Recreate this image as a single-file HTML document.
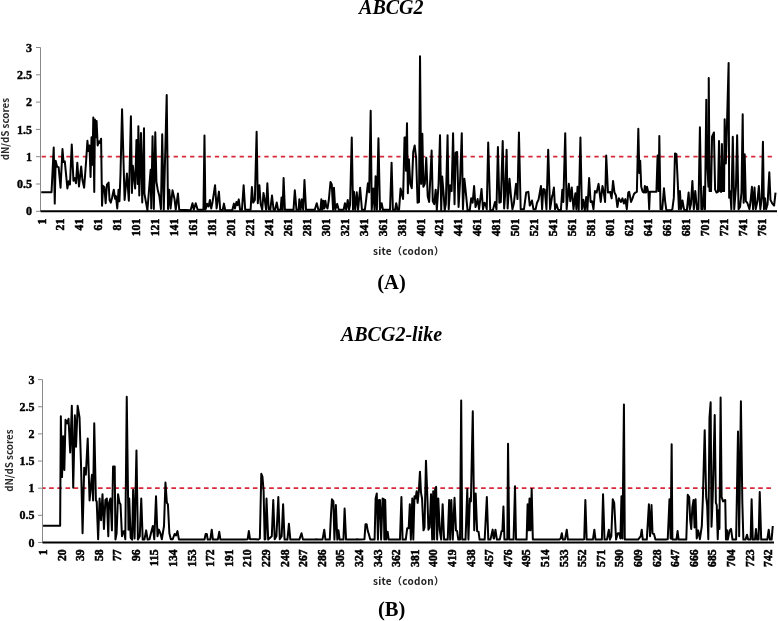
<!DOCTYPE html>
<html><head><meta charset="utf-8"><style>
html,body{margin:0;padding:0;background:#fff;}
body{width:778px;height:621px;overflow:hidden;position:relative;}
svg{position:absolute;left:0;top:0;}
.yl{font-family:"Liberation Serif",serif;font-weight:bold;font-size:12px;text-anchor:end;fill:#000;stroke:#000;stroke-width:0.4px;}
.xl{font-family:"Liberation Serif",serif;font-weight:bold;font-size:11.6px;text-anchor:end;fill:#000;stroke:#000;stroke-width:0.55px;}
.ti{font-family:"Liberation Serif",serif;font-weight:bold;font-style:italic;font-size:20px;text-anchor:middle;fill:#000;}
.pl{font-family:"Liberation Serif",serif;font-weight:bold;font-size:20.5px;text-anchor:middle;fill:#000;}
.at{font-family:"Noto Sans CJK SC",sans-serif;font-weight:bold;font-size:10px;fill:#222;}
.yt{font-family:"Noto Sans CJK SC",sans-serif;font-weight:bold;font-size:9.8px;fill:#2a2a2a;text-anchor:middle;}
</style></head><body>
<svg width="778" height="621" viewBox="0 0 778 621">
<text class="ti" x="391.3" y="14.4">ABCG2</text>
<text class="yt" transform="translate(9.2,129.1) rotate(-90)">dN/dS scores</text>
<line x1="40.5" y1="47.5" x2="40.5" y2="211.3" stroke="#8a8a8a" stroke-width="1"/>
<line x1="36.0" y1="211.30" x2="40.5" y2="211.30" stroke="#8a8a8a" stroke-width="1"/>
<text x="32" y="215.40" class="yl">0</text>
<line x1="36.0" y1="184.00" x2="40.5" y2="184.00" stroke="#8a8a8a" stroke-width="1"/>
<text x="32" y="188.10" class="yl">0.5</text>
<line x1="36.0" y1="156.70" x2="40.5" y2="156.70" stroke="#8a8a8a" stroke-width="1"/>
<text x="32" y="160.80" class="yl">1</text>
<line x1="36.0" y1="129.40" x2="40.5" y2="129.40" stroke="#8a8a8a" stroke-width="1"/>
<text x="32" y="133.50" class="yl">1.5</text>
<line x1="36.0" y1="102.10" x2="40.5" y2="102.10" stroke="#8a8a8a" stroke-width="1"/>
<text x="32" y="106.20" class="yl">2</text>
<line x1="36.0" y1="74.80" x2="40.5" y2="74.80" stroke="#8a8a8a" stroke-width="1"/>
<text x="32" y="78.90" class="yl">2.5</text>
<line x1="36.0" y1="47.50" x2="40.5" y2="47.50" stroke="#8a8a8a" stroke-width="1"/>
<text x="32" y="51.60" class="yl">3</text>
<line x1="41.6" y1="156.70" x2="772.5" y2="156.70" stroke="#d8283a" stroke-width="1.7" stroke-dasharray="4.3,3.95" stroke-dashoffset="0"/>
<polyline points="41.22,192.28 51.53,192.28 53.72,147.43 54.75,203.62 55.65,160.71 57.07,166.76 58.62,167.15 60.55,187.77 62.48,149.11 63.52,161.99 64.80,161.35 67.38,188.41 68.67,181.32 69.96,184.55 71.76,144.60 73.44,180.68 74.73,178.10 76.02,183.26 77.30,162.64 78.98,186.48 81.17,166.51 82.46,180.04 84.13,187.77 86.05,161.98 87.42,140.78 88.38,151.04 89.47,145.57 90.57,177.03 91.52,137.36 92.48,164.72 93.30,117.52 94.26,192.08 94.94,119.58 96.04,137.36 96.59,120.94 97.68,145.57 98.77,141.46 99.73,142.83 101.10,138.73 102.05,205.81 103.08,185.84 104.37,187.12 105.65,203.23 106.94,184.55 108.62,182.61 109.52,200.01 110.81,202.59 112.10,197.43 113.77,189.70 115.06,198.72 115.96,196.14 117.25,208.44 118.54,189.70 119.44,201.30 120.47,174.88 122.06,109.24 124.60,200.01 126.92,173.59 128.85,200.65 130.91,116.17 131.93,192.92 132.84,165.86 135.15,188.41 136.44,140.09 137.73,183.90 138.37,126.15 139.28,195.50 140.95,133.08 142.24,202.59 144.01,128.24 144.43,193.57 147.40,210.30 150.62,169.73 151.26,208.44 152.55,136.22 153.84,209.09 155.28,132.27 156.42,181.97 157.71,189.70 159.38,196.14 160.93,209.09 162.22,134.29 163.76,209.73 166.71,95.07 168.02,209.09 169.30,189.70 170.59,208.44 172.53,190.35 174.46,198.72 175.75,209.73 177.94,193.57 179.23,209.73 190.57,210.30 192.50,203.23 193.79,209.73 195.72,203.23 197.65,209.73 203.45,209.73 204.48,135.58 205.39,209.73 207.32,203.88 208.61,206.45 209.90,200.01 211.19,208.44 212.47,202.59 215.05,185.19 216.60,208.44 218.92,191.63 220.21,209.73 222.64,210.30 223.93,203.62 225.22,210.30 232.31,210.30 233.86,203.62 234.89,208.44 236.43,201.94 237.46,205.16 238.75,199.37 240.04,209.73 241.97,209.73 243.65,185.19 245.20,209.73 250.61,209.73 251.90,187.12 253.19,202.59 254.86,200.01 256.62,131.79 257.82,203.23 259.37,185.19 260.66,203.88 262.21,209.73 263.49,192.92 264.78,200.01 266.07,209.73 267.36,183.26 268.65,209.09 270.32,209.73 272.00,195.50 273.55,209.73 275.09,209.73 276.77,202.59 278.06,209.73 280.63,209.73 281.54,197.43 282.57,209.73 283.60,178.10 284.89,209.73 293.52,209.73 294.81,190.35 296.48,209.73 298.68,209.73 299.32,199.37 300.61,209.73 301.90,199.37 303.19,209.73 304.47,180.04 306.02,209.73 314.78,209.73 316.72,203.23 318.39,209.73 320.44,209.73 321.35,199.37 322.38,209.73 323.28,200.65 324.31,208.44 325.34,200.65 326.24,206.45 327.53,208.44 328.82,200.01 330.49,181.97 331.78,184.55 333.07,209.73 333.97,187.77 335.26,209.73 337.20,203.88 338.74,209.73 343.64,209.73 344.93,203.23 346.22,209.73 347.76,200.01 349.05,209.73 350.08,204.52 351.76,137.51 353.05,209.73 353.95,191.63 355.24,209.73 356.78,192.28 358.07,209.73 360.13,187.77 361.94,209.73 364.90,209.73 366.19,199.37 367.87,183.26 369.15,192.28 370.68,110.85 371.73,209.73 373.28,188.41 374.57,209.73 375.60,176.17 376.89,209.73 378.43,138.15 379.98,209.73 381.65,203.23 382.94,209.73 390.03,209.73 391.58,162.64 392.87,209.73 395.19,209.73 396.22,203.23 397.51,209.73 399.05,209.73 400.60,188.41 403.07,199.09 404.52,137.49 405.54,137.49 405.97,170.83 406.99,123.26 407.86,193.29 408.87,159.23 410.32,183.87 411.77,188.22 413.22,151.99 414.67,145.46 416.12,157.78 417.57,202.71 419.01,201.99 420.03,56.30 421.19,183.87 422.35,133.87 423.36,186.77 424.81,183.87 426.26,157.78 427.71,196.19 429.16,201.99 431.62,150.54 432.78,201.26 434.23,204.16 435.68,189.67 436.84,209.93 438.58,183.87 440.03,135.32 441.19,209.93 442.20,176.62 443.65,194.01 444.67,210.30 445.83,204.16 447.57,135.32 448.72,209.21 450.17,185.32 451.62,191.12 453.07,133.14 454.52,204.16 455.68,152.71 457.13,151.99 458.58,207.06 460.03,182.42 461.77,133.14 462.93,209.21 464.38,178.80 465.83,192.57 467.57,210.30 469.74,210.30 471.19,198.36 472.64,202.71 474.09,186.04 475.54,207.06 476.99,201.99 477.62,199.09 479.07,209.21 481.54,188.94 482.99,209.21 484.43,202.71 485.59,204.16 486.75,209.21 488.20,142.57 490.23,209.93 492.84,210.30 495.01,201.99 496.46,209.21 497.91,146.91 499.36,202.71 500.81,201.99 502.70,141.12 504.14,208.48 505.16,194.74 506.61,149.81 507.62,208.48 509.51,178.80 510.96,196.19 512.41,209.21 513.86,203.43 516.03,183.87 517.48,199.09 518.93,132.42 520.67,209.21 524.00,209.21 526.17,192.57 528.35,191.84 529.80,205.61 531.97,200.54 533.42,209.21 535.59,209.21 537.04,202.71 538.49,199.81 540.96,186.04 542.12,209.21 543.28,188.94 544.72,189.67 546.46,209.21 548.20,149.81 550.09,209.21 552.26,195.46 552.61,195.46 553.91,187.49 555.07,209.21 556.52,204.16 557.97,209.21 559.42,210.30 560.87,210.30 562.32,189.67 563.33,201.99 565.22,133.14 566.67,209.21 568.84,183.87 570.29,201.26 571.74,187.49 573.48,209.21 575.36,193.29 576.38,209.21 577.54,186.77 578.70,209.93 580.43,137.49 581.88,209.21 583.33,199.81 584.78,210.30 586.23,196.91 587.39,209.93 589.13,178.07 590.58,201.99 592.03,201.26 593.48,209.21 594.93,191.12 596.67,192.57 598.55,183.87 600.72,201.99 602.46,186.04 603.62,191.12 605.07,201.99 606.23,155.61 607.97,192.57 610.14,191.84 611.59,198.36 613.04,180.97 614.49,192.57 615.94,195.46 617.39,207.06 618.84,198.36 621.01,201.99 622.46,198.36 623.91,203.43 625.36,199.09 626.81,209.21 628.26,192.57 629.19,191.84 631.07,201.99 632.52,198.36 633.97,194.01 635.42,192.57 636.87,191.84 638.32,128.80 639.33,173.00 640.20,160.68 641.22,186.77 642.67,191.84 644.12,192.57 644.84,186.04 646.00,192.57 647.01,186.77 648.46,193.29 649.19,209.21 649.91,191.84 653.54,191.84 656.43,191.84 657.59,155.61 658.61,191.12 659.33,136.04 660.49,209.21 662.23,209.21 663.97,188.22 665.13,201.26 666.29,209.93 668.03,210.30 670.93,210.30 672.38,209.21 673.83,197.64 674.99,153.43 676.43,154.16 677.88,185.32 678.90,209.21 679.91,191.12 681.07,209.21 682.52,200.54 683.97,209.21 685.42,210.30 686.87,210.30 688.61,192.57 689.77,209.21 690.93,204.16 692.38,180.97 693.83,209.21 695.28,191.12 697.01,209.21 698.46,209.21 699.91,127.35 701.36,209.21 702.64,209.21 703.80,186.77 704.96,209.21 706.30,99.63 706.70,154.16 708.43,186.77 708.75,77.92 709.59,191.12 711.04,191.12 712.06,136.77 713.94,132.42 715.10,189.67 716.55,192.57 718.00,191.84 719.01,141.12 720.03,191.12 721.19,191.84 721.91,144.01 722.93,191.12 724.09,191.12 724.65,119.20 725.83,163.58 726.99,124.45 728.62,62.94 729.16,197.64 730.17,191.12 731.33,209.21 732.78,136.77 734.23,209.21 735.97,186.77 737.13,135.32 738.58,209.21 740.03,207.06 741.48,192.57 742.69,114.16 743.65,202.71 744.67,154.16 745.83,201.26 747.28,202.71 749.45,209.21 750.46,201.99 751.91,186.77 753.07,209.21 754.52,187.49 755.68,209.21 757.42,201.26 758.87,186.04 760.32,209.21 761.77,198.36 762.93,141.84 763.94,209.21 764.96,198.36 766.12,209.21 767.57,204.16 769.30,172.28 770.46,199.81 772.20,203.43 774.09,205.61 775.54,192.57" fill="none" stroke="#000" stroke-width="2" stroke-linejoin="round"/>
<line x1="40.5" y1="211.3" x2="777" y2="211.3" stroke="#000" stroke-width="2"/>
<text class="xl" transform="translate(45.50,218.8) rotate(-90)">1</text>
<text class="xl" transform="translate(64.45,218.8) rotate(-90)">21</text>
<text class="xl" transform="translate(83.40,218.8) rotate(-90)">41</text>
<text class="xl" transform="translate(102.35,218.8) rotate(-90)">61</text>
<text class="xl" transform="translate(121.30,218.8) rotate(-90)">81</text>
<text class="xl" transform="translate(140.25,218.8) rotate(-90)">101</text>
<text class="xl" transform="translate(159.20,218.8) rotate(-90)">121</text>
<text class="xl" transform="translate(178.15,218.8) rotate(-90)">141</text>
<text class="xl" transform="translate(197.10,218.8) rotate(-90)">161</text>
<text class="xl" transform="translate(216.05,218.8) rotate(-90)">181</text>
<text class="xl" transform="translate(235.00,218.8) rotate(-90)">201</text>
<text class="xl" transform="translate(253.95,218.8) rotate(-90)">221</text>
<text class="xl" transform="translate(272.90,218.8) rotate(-90)">241</text>
<text class="xl" transform="translate(291.85,218.8) rotate(-90)">261</text>
<text class="xl" transform="translate(310.80,218.8) rotate(-90)">281</text>
<text class="xl" transform="translate(329.75,218.8) rotate(-90)">301</text>
<text class="xl" transform="translate(348.70,218.8) rotate(-90)">321</text>
<text class="xl" transform="translate(367.65,218.8) rotate(-90)">341</text>
<text class="xl" transform="translate(386.60,218.8) rotate(-90)">361</text>
<text class="xl" transform="translate(405.55,218.8) rotate(-90)">381</text>
<text class="xl" transform="translate(424.50,218.8) rotate(-90)">401</text>
<text class="xl" transform="translate(443.45,218.8) rotate(-90)">421</text>
<text class="xl" transform="translate(462.40,218.8) rotate(-90)">441</text>
<text class="xl" transform="translate(481.35,218.8) rotate(-90)">461</text>
<text class="xl" transform="translate(500.30,218.8) rotate(-90)">481</text>
<text class="xl" transform="translate(519.25,218.8) rotate(-90)">501</text>
<text class="xl" transform="translate(538.20,218.8) rotate(-90)">521</text>
<text class="xl" transform="translate(557.15,218.8) rotate(-90)">541</text>
<text class="xl" transform="translate(576.10,218.8) rotate(-90)">561</text>
<text class="xl" transform="translate(595.05,218.8) rotate(-90)">581</text>
<text class="xl" transform="translate(614.00,218.8) rotate(-90)">601</text>
<text class="xl" transform="translate(632.95,218.8) rotate(-90)">621</text>
<text class="xl" transform="translate(651.90,218.8) rotate(-90)">641</text>
<text class="xl" transform="translate(670.85,218.8) rotate(-90)">661</text>
<text class="xl" transform="translate(689.80,218.8) rotate(-90)">681</text>
<text class="xl" transform="translate(708.75,218.8) rotate(-90)">701</text>
<text class="xl" transform="translate(727.70,218.8) rotate(-90)">721</text>
<text class="xl" transform="translate(746.65,218.8) rotate(-90)">741</text>
<text class="xl" transform="translate(765.60,218.8) rotate(-90)">761</text>
<text class="at" x="373" y="254.8" textLength="71" lengthAdjust="spacing">site（codon）</text>
<text class="pl" x="391.5" y="289.3">(A)</text>
<text class="ti" x="391.5" y="341">ABCG2-like</text>
<text class="yt" transform="translate(12.8,460.6) rotate(-90)">dN/dS scores</text>
<line x1="42.5" y1="379.6" x2="42.5" y2="542.5" stroke="#8a8a8a" stroke-width="1"/>
<line x1="38.0" y1="542.50" x2="42.5" y2="542.50" stroke="#8a8a8a" stroke-width="1"/>
<text x="34.5" y="546.60" class="yl">0</text>
<line x1="38.0" y1="515.35" x2="42.5" y2="515.35" stroke="#8a8a8a" stroke-width="1"/>
<text x="34.5" y="519.45" class="yl">0.5</text>
<line x1="38.0" y1="488.20" x2="42.5" y2="488.20" stroke="#8a8a8a" stroke-width="1"/>
<text x="34.5" y="492.30" class="yl">1</text>
<line x1="38.0" y1="461.05" x2="42.5" y2="461.05" stroke="#8a8a8a" stroke-width="1"/>
<text x="34.5" y="465.15" class="yl">1.5</text>
<line x1="38.0" y1="433.90" x2="42.5" y2="433.90" stroke="#8a8a8a" stroke-width="1"/>
<text x="34.5" y="438.00" class="yl">2</text>
<line x1="38.0" y1="406.75" x2="42.5" y2="406.75" stroke="#8a8a8a" stroke-width="1"/>
<text x="34.5" y="410.85" class="yl">2.5</text>
<line x1="38.0" y1="379.60" x2="42.5" y2="379.60" stroke="#8a8a8a" stroke-width="1"/>
<text x="34.5" y="383.70" class="yl">3</text>
<line x1="43" y1="488.20" x2="771" y2="488.20" stroke="#d8283a" stroke-width="1.7" stroke-dasharray="4.6,3.55" stroke-dashoffset="2"/>
<polyline points="43.07,525.72 60.03,525.72 60.14,525.70 60.84,416.36 62.01,477.10 63.18,436.21 64.35,470.09 65.51,419.86 67.15,423.36 68.55,418.69 70.19,452.57 71.82,405.84 73.22,487.62 74.86,415.19 76.03,446.73 77.66,405.84 79.53,417.52 81.17,470.09 82.57,533.18 84.21,467.76 85.84,474.77 87.71,438.55 89.58,500.47 91.92,474.77 93.08,500.47 94.25,423.36 95.89,500.47 96.70,501.38 98.14,539.23 99.59,498.48 101.04,520.22 102.49,494.13 103.94,528.91 105.39,499.93 106.84,498.48 108.29,536.16 109.01,502.83 110.46,498.48 111.91,530.36 113.07,466.59 114.72,466.59 115.45,539.60 116.61,533.26 118.06,494.13 119.51,502.83 120.52,504.28 121.97,536.16 122.99,531.81 124.14,531.09 125.30,539.23 126.75,396.81 128.49,529.64 129.22,498.48 130.67,537.78 132.12,539.60 133.13,489.78 134.58,538.51 136.46,450.43 137.91,539.60 139.80,536.16 141.25,498.48 142.70,539.60 144.43,539.60 146.17,530.36 147.62,539.60 149.51,539.23 150.96,533.26 152.84,526.01 154.29,539.23 156.03,496.30 157.48,536.16 158.93,529.64 160.38,533.26 161.83,539.23 164.00,526.01 165.45,482.54 166.90,502.83 167.91,504.28 169.36,533.26 170.81,539.23 172.70,539.23 174.58,533.99 176.03,535.43 177.48,531.09 178.93,539.60 181.39,539.60 183.57,539.60 186.46,539.60 188.64,539.60 190.81,539.60 192.90,539.60 198.70,539.60 201.59,539.60 204.49,539.60 205.65,533.99 206.81,533.99 207.68,539.60 210.29,539.60 211.74,529.64 212.90,539.60 217.83,539.60 219.28,531.81 220.43,539.60 226.23,539.60 230.58,539.60 239.28,539.60 245.07,539.60 247.68,539.23 248.84,531.09 250.00,539.23 253.77,539.23 255.94,539.23 258.12,539.60 259.86,538.51 261.30,473.84 262.46,476.74 263.62,491.23 264.64,539.60 265.36,539.23 266.52,498.48 268.17,539.60 271.80,536.16 273.25,499.93 274.70,539.23 276.43,536.16 278.32,497.03 279.77,539.23 281.65,536.16 283.10,504.28 284.55,539.60 287.45,539.60 288.90,523.84 290.35,539.60 299.33,539.60 301.51,533.26 302.96,539.60 306.58,539.60 314.55,539.60 316.00,539.23 318.17,539.60 322.52,539.60 324.26,529.64 325.42,539.60 329.77,539.60 330.93,515.87 331.94,499.20 333.39,501.38 334.41,539.60 335.86,505.00 337.30,539.60 338.46,530.36 339.62,539.60 342.09,539.60 343.45,539.60 344.61,508.62 346.06,539.60 355.04,539.60 356.49,539.23 359.39,539.60 364.46,539.23 365.48,524.28 366.64,524.28 367.80,531.09 368.81,533.99 370.26,539.60 374.61,539.60 375.62,498.48 376.78,493.41 377.94,539.60 378.96,499.93 379.97,499.93 381.13,539.60 382.58,498.48 383.74,499.20 384.32,539.60 385.19,499.93 386.20,539.60 387.65,531.81 388.67,539.60 399.97,539.60 401.42,497.03 402.58,539.60 405.77,539.60 407.22,528.19 408.67,528.19 409.83,504.28 410.84,539.60 412.29,498.48 413.30,539.60 414.46,496.30 415.62,498.48 416.64,491.23 417.65,502.83 418.81,491.23 419.97,471.67 420.99,492.68 422.06,498.48 423.51,530.36 424.52,527.46 425.97,460.80 427.42,498.48 428.43,529.64 429.59,527.46 431.04,494.13 432.20,539.60 433.22,491.23 434.23,539.60 435.10,489.78 436.12,486.88 437.13,539.60 438.29,498.48 439.74,530.36 441.19,539.60 442.64,504.28 444.09,539.60 446.26,539.60 447.71,539.60 449.16,499.93 450.17,539.60 451.33,499.93 452.78,539.60 454.52,497.75 455.97,530.36 457.13,531.09 458.29,539.60 460.03,539.60 461.19,400.43 462.20,539.60 464.09,539.60 465.54,539.60 467.28,489.06 468.43,539.60 469.88,498.48 470.90,501.38 472.78,411.30 474.23,530.36 475.68,493.41 477.13,531.09 478.58,531.81 479.59,539.60 481.77,539.60 484.67,539.60 486.84,497.03 488.29,539.60 490.46,539.60 492.64,529.64 493.65,538.51 494.00,538.51 495.45,529.64 496.90,539.60 499.80,539.60 501.54,531.09 502.41,531.09 503.42,506.45 504.43,539.60 505.88,539.60 507.33,539.60 508.04,443.79 509.22,539.60 512.55,539.60 513.57,539.60 515.01,486.16 516.03,539.60 517.91,539.60 526.61,539.60 527.62,504.28 528.49,530.36 529.51,498.48 530.52,530.36 531.68,489.06 532.84,539.60 536.03,539.60 544.72,539.60 551.97,539.60 559.22,539.60 560.67,538.51 561.83,533.26 562.84,539.60 565.01,539.60 566.75,529.64 567.91,539.60 572.90,539.60 583.04,539.60 584.20,539.23 585.36,499.93 586.67,539.60 590.29,539.60 592.90,539.60 594.35,529.64 595.51,539.60 600.43,539.60 601.88,539.60 603.04,494.13 604.49,539.60 606.96,539.60 608.84,529.64 609.86,539.60 611.30,536.16 612.75,499.20 614.20,502.83 616.09,539.60 617.83,533.26 619.28,533.26 620.43,538.51 621.45,496.30 622.46,538.51 623.94,404.49 624.78,539.60 626.52,539.60 633.77,539.60 635.94,539.60 638.12,539.60 640.72,536.16 641.74,529.64 642.75,539.60 646.81,539.60 648.90,504.28 650.06,536.16 651.51,505.00 652.52,533.26 653.97,533.99 655.42,539.60 657.59,539.60 660.49,539.60 663.39,539.60 665.57,539.60 667.74,539.23 669.48,499.20 670.64,538.51 671.65,444.20 672.38,539.60 674.26,539.60 676.43,539.60 677.59,531.09 678.61,539.60 683.68,539.60 686.29,539.60 687.74,494.86 689.19,497.03 690.20,520.22 691.22,528.91 692.38,507.17 693.54,499.93 694.55,527.46 695.57,499.20 696.72,538.51 698.17,530.36 699.91,539.23 701.80,526.01 702.81,499.93 704.70,430.14 706.14,496.30 707.16,505.72 708.32,539.23 709.48,417.83 710.64,402.17 711.51,526.74 712.67,498.48 714.70,414.93 715.86,502.83 716.72,505.00 717.74,539.23 718.75,510.07 719.45,528.91 720.61,397.54 721.62,497.03 723.07,501.38 724.09,500.65 725.25,499.93 725.97,539.60 726.99,530.36 727.86,539.60 729.59,530.36 731.04,528.91 732.49,539.60 736.12,539.60 738.00,431.59 739.16,536.16 740.90,401.16 742.35,502.83 743.36,539.60 745.54,539.60 746.99,534.71 748.14,539.60 750.61,539.60 751.62,499.20 752.78,539.60 754.96,539.60 755.97,528.91 757.13,539.60 758.58,539.60 759.74,491.96 761.19,539.60 764.38,539.60 767.28,539.60 768.72,529.64 769.88,539.60 771.62,539.60 772.78,526.01" fill="none" stroke="#000" stroke-width="2" stroke-linejoin="round"/>
<line x1="42.5" y1="542.5" x2="774" y2="542.5" stroke="#000" stroke-width="2"/>
<text class="xl" transform="translate(46.90,549.5) rotate(-90)">1</text>
<text class="xl" transform="translate(65.50,549.5) rotate(-90)">20</text>
<text class="xl" transform="translate(84.09,549.5) rotate(-90)">39</text>
<text class="xl" transform="translate(102.69,549.5) rotate(-90)">58</text>
<text class="xl" transform="translate(121.28,549.5) rotate(-90)">77</text>
<text class="xl" transform="translate(139.88,549.5) rotate(-90)">96</text>
<text class="xl" transform="translate(158.47,549.5) rotate(-90)">115</text>
<text class="xl" transform="translate(177.07,549.5) rotate(-90)">134</text>
<text class="xl" transform="translate(195.66,549.5) rotate(-90)">153</text>
<text class="xl" transform="translate(214.26,549.5) rotate(-90)">172</text>
<text class="xl" transform="translate(232.85,549.5) rotate(-90)">191</text>
<text class="xl" transform="translate(251.45,549.5) rotate(-90)">210</text>
<text class="xl" transform="translate(270.04,549.5) rotate(-90)">229</text>
<text class="xl" transform="translate(288.64,549.5) rotate(-90)">248</text>
<text class="xl" transform="translate(307.23,549.5) rotate(-90)">267</text>
<text class="xl" transform="translate(325.83,549.5) rotate(-90)">286</text>
<text class="xl" transform="translate(344.42,549.5) rotate(-90)">305</text>
<text class="xl" transform="translate(363.02,549.5) rotate(-90)">324</text>
<text class="xl" transform="translate(381.62,549.5) rotate(-90)">343</text>
<text class="xl" transform="translate(400.21,549.5) rotate(-90)">362</text>
<text class="xl" transform="translate(418.81,549.5) rotate(-90)">381</text>
<text class="xl" transform="translate(437.40,549.5) rotate(-90)">400</text>
<text class="xl" transform="translate(456.00,549.5) rotate(-90)">419</text>
<text class="xl" transform="translate(474.59,549.5) rotate(-90)">438</text>
<text class="xl" transform="translate(493.19,549.5) rotate(-90)">457</text>
<text class="xl" transform="translate(511.78,549.5) rotate(-90)">476</text>
<text class="xl" transform="translate(530.38,549.5) rotate(-90)">495</text>
<text class="xl" transform="translate(548.97,549.5) rotate(-90)">514</text>
<text class="xl" transform="translate(567.57,549.5) rotate(-90)">533</text>
<text class="xl" transform="translate(586.16,549.5) rotate(-90)">552</text>
<text class="xl" transform="translate(604.76,549.5) rotate(-90)">571</text>
<text class="xl" transform="translate(623.35,549.5) rotate(-90)">590</text>
<text class="xl" transform="translate(641.95,549.5) rotate(-90)">609</text>
<text class="xl" transform="translate(660.54,549.5) rotate(-90)">628</text>
<text class="xl" transform="translate(679.14,549.5) rotate(-90)">647</text>
<text class="xl" transform="translate(697.74,549.5) rotate(-90)">666</text>
<text class="xl" transform="translate(716.33,549.5) rotate(-90)">685</text>
<text class="xl" transform="translate(734.93,549.5) rotate(-90)">704</text>
<text class="xl" transform="translate(753.52,549.5) rotate(-90)">723</text>
<text class="xl" transform="translate(772.12,549.5) rotate(-90)">742</text>
<text class="at" x="373" y="584.8" textLength="71" lengthAdjust="spacing">site（codon）</text>
<text class="pl" x="391.7" y="616">(B)</text>
</svg>
</body></html>
